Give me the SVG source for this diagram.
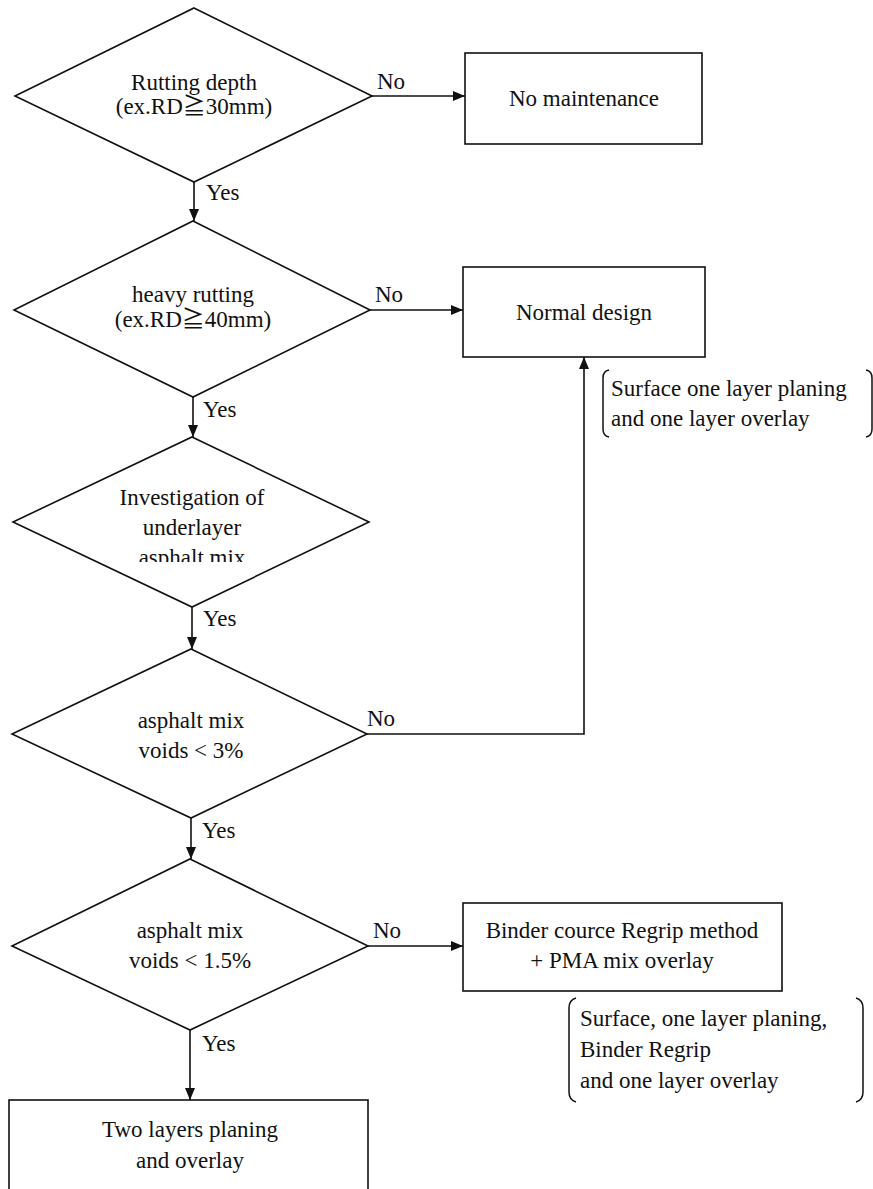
<svg xmlns="http://www.w3.org/2000/svg" width="873" height="1189" viewBox="0 0 873 1189">
<defs>
<style>
.shape{fill:#fff;stroke:#111;stroke-width:1.6}
.conn{fill:none;stroke:#111;stroke-width:1.6}
.br{fill:none;stroke:#111;stroke-width:1.5}
text{font-family:"Liberation Serif","Times New Roman","DejaVu Serif","Noto Sans CJK JP",serif;font-size:23px;fill:#111}
.c{text-anchor:middle}
</style>
<marker id="ah" viewBox="0 0 12 10" refX="12" refY="5" markerWidth="12" markerHeight="10" markerUnits="userSpaceOnUse" orient="auto">
<path d="M0,0 L12,5 L0,10 Z" fill="#111"/>
</marker>
<clipPath id="clip3"><rect x="0" y="430" width="400" height="132"/></clipPath>
</defs>
<rect width="873" height="1189" fill="#fff"/>

<g id="connectors">
<line class="conn" x1="372" y1="96" x2="465" y2="96" marker-end="url(#ah)"/>
<line class="conn" x1="194" y1="182" x2="194" y2="221" marker-end="url(#ah)"/>
<line class="conn" x1="370" y1="310" x2="463" y2="310" marker-end="url(#ah)"/>
<line class="conn" x1="193" y1="397" x2="193" y2="437" marker-end="url(#ah)"/>
<line class="conn" x1="192" y1="607" x2="192" y2="649" marker-end="url(#ah)"/>
<polyline class="conn" points="367,734 584,734 584,357" marker-end="url(#ah)"/>
<line class="conn" x1="191" y1="818" x2="191" y2="859" marker-end="url(#ah)"/>
<line class="conn" x1="368" y1="946" x2="463" y2="946" marker-end="url(#ah)"/>
<line class="conn" x1="190" y1="1030" x2="190" y2="1100" marker-end="url(#ah)"/>
<text x="377" y="89">No</text>
<text x="206" y="200">Yes</text>
<text x="375" y="302">No</text>
<text x="203" y="417">Yes</text>
<text x="203" y="626">Yes</text>
<text x="367" y="726">No</text>
<text x="202" y="838">Yes</text>
<text x="373" y="938">No</text>
<text x="202" y="1051">Yes</text>
</g>

<g id="d1">
<polygon class="shape" points="194,8 372,96 194,182 15,96"/>
<text class="c" x="194" y="90">Rutting depth</text>
<text class="c" x="194" y="114">(ex.RD≧30mm)</text>
</g>

<g id="box1">
<rect class="shape" x="465" y="53" width="237" height="91"/>
<text class="c" x="584" y="106">No maintenance</text>
</g>

<g id="d2">
<polygon class="shape" points="193,221 370,310 193,397 14,310"/>
<text class="c" x="193" y="302">heavy rutting</text>
<text class="c" x="193" y="327">(ex.RD≧40mm)</text>
</g>

<g id="box2">
<rect class="shape" x="463" y="267" width="242" height="90"/>
<text class="c" x="584" y="320">Normal design</text>
</g>

<g id="note1">
<path class="br" d="M609,370 Q603,371 603,378 L603,429 Q603,436 609,437"/>
<path class="br" d="M866,370 Q872,371 872,378 L872,429 Q872,436 866,437"/>
<text x="611" y="396">Surface one layer planing</text>
<text x="611" y="426">and one layer overlay</text>
</g>

<g id="d3">
<polygon class="shape" points="192,437 369,522 192,607 13,522"/>
<text class="c" x="192" y="505">Investigation of</text>
<text class="c" x="192" y="535">underlayer</text>
<text class="c" x="192" y="565" clip-path="url(#clip3)">asphalt mix</text>
</g>

<g id="d4">
<polygon class="shape" points="191,649 367,734 191,818 12,734"/>
<text class="c" x="191" y="728">asphalt mix</text>
<text class="c" x="191" y="758">voids &lt; 3%</text>
</g>

<g id="d5">
<polygon class="shape" points="190,859 368,946 190,1030 12,946"/>
<text class="c" x="190" y="938">asphalt mix</text>
<text class="c" x="190" y="968">voids &lt; 1.5%</text>
</g>

<g id="box3">
<rect class="shape" x="463" y="903" width="319" height="88"/>
<text class="c" x="622" y="938">Binder cource Regrip method</text>
<text class="c" x="622" y="968">+ PMA mix overlay</text>
</g>

<g id="note2">
<path class="br" d="M576,998 Q569,1000 569,1008 L569,1092 Q569,1100 576,1102"/>
<path class="br" d="M856,998 Q863,1000 863,1008 L863,1092 Q863,1100 856,1102"/>
<text x="580" y="1026">Surface, one layer planing,</text>
<text x="580" y="1057">Binder Regrip</text>
<text x="580" y="1088">and one layer overlay</text>
</g>

<g id="box4">
<rect class="shape" x="9" y="1100" width="359" height="100"/>
<text class="c" x="190" y="1137">Two layers planing</text>
<text class="c" x="190" y="1168">and overlay</text>
</g>
</svg>
